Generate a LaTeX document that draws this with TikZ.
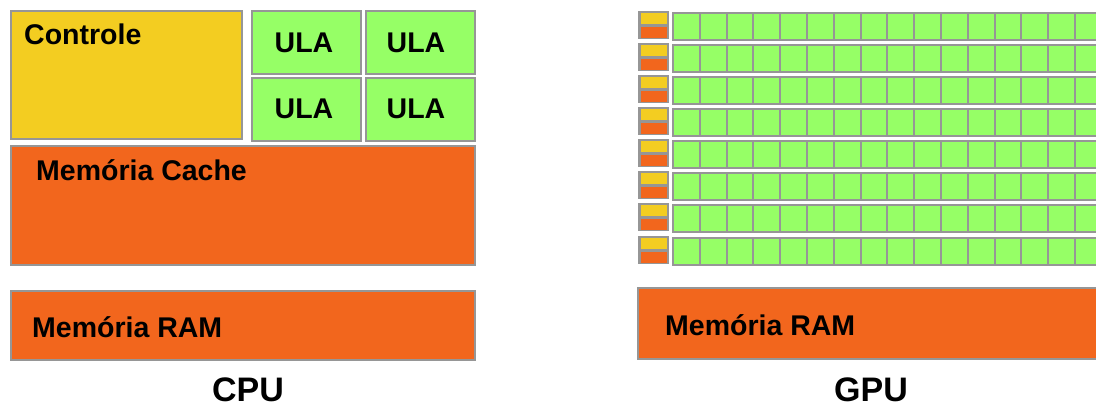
\documentclass[tikz,border=0pt]{standalone}
\usepackage{fontspec}
\setmainfont{Liberation Sans}
\definecolor{ctrlyellow}{HTML}{F3CD21}
\definecolor{ulagreen}{HTML}{96FF66}
\definecolor{memorange}{HTML}{F2661D}
\definecolor{edgegray}{HTML}{969696}
\tikzset{
	box/.style={draw=edgegray, line width=2pt},
	lbl/.style={font=\bfseries\fontsize{28.5}{30}\selectfont, inner sep=0pt, anchor=base west},
	ulalbl/.style={font=\bfseries\fontsize{28.5}{30}\selectfont, inner sep=0pt, anchor=base},
	title/.style={font=\bfseries\fontsize{34}{38}\selectfont, inner sep=0pt, anchor=base},
}
\begin{document}
\begin{tikzpicture}[x=1pt, y=-1pt]
	\useasboundingbox (0,0) rectangle (1096,409);
	\clip (0,0) rectangle (1096,409);
	% CPU
	\draw[box, fill=ctrlyellow] (11,11) rectangle (242,139);
	\foreach \x in {252,366}
		\foreach \y in {11,78}
			\draw[box, fill=ulagreen] (\x,\y) rectangle +(109,63);
	\draw[box, fill=memorange] (11,146) rectangle (475,265);
	\draw[box, fill=memorange] (11,291) rectangle (475,360);
	\node[lbl] (ctrl) at (24,45) {Controle};
	\node[ulalbl] (ula1) at (304,53) {ULA};
	\node[ulalbl] (ula2) at (416,53) {ULA};
	\node[ulalbl] (ula3) at (304,119) {ULA};
	\node[ulalbl] (ula4) at (416,119) {ULA};
	\node[lbl] (cache) at (36,181) {Memória Cache};
	\node[lbl] (cpuram) at (32,337) {Memória RAM};
	\node[title] (cpu) at (248,401) {CPU};
	% GPU
	\foreach \y in {13,45,77,109,141,173,205,238}
	{
		\fill[edgegray] (638,\y-2) rectangle (669,\y+26);
		\fill[ctrlyellow] (641,\y) rectangle (667,\y+11);
		\fill[memorange] (641,\y+14) rectangle (667,\y+25);
		\foreach \k in {0,...,15}
			\draw[box, fill=ulagreen] ({673+26.8*\k},\y) rectangle +(26.8,27);
	}
	\draw[box, fill=memorange] (638,288) rectangle (1110,359);
	\node[lbl] (gpuram) at (665,335) {Memória RAM};
	\node[title] (gpu) at (871,401) {GPU};
\end{tikzpicture}
\end{document}
